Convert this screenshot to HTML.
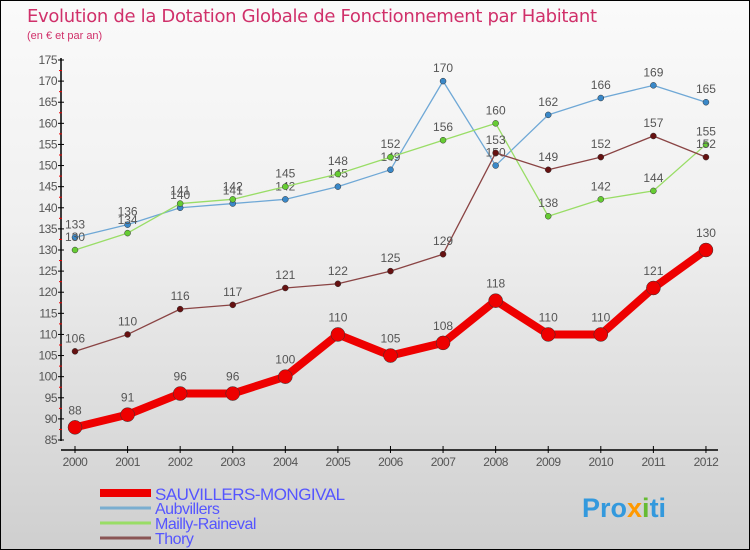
<!DOCTYPE html>
<html><head><meta charset="utf-8"><style>
body{margin:0}
#c{width:750px;height:550px;position:relative;box-sizing:border-box;border:1px solid #000;background:linear-gradient(#fafafa,#f0f0f0 40%,#cfcfcf);font-family:"Liberation Sans",sans-serif;overflow:hidden}
</style></head><body>
<div id="c">
<svg width="750" height="550" id="s" style="position:absolute;left:-1px;top:-1px">
<text x="27" y="22" font-size="18" fill="#d0306a" textLength="570" style="font-family:'DejaVu Sans',sans-serif">Evolution de la Dotation Globale de Fonctionnement par Habitant</text>
<text x="27" y="39" font-size="11" fill="#d0306a">(en € et par an)</text>
<g id="g"></g>
<text x="582" y="517" font-size="27" font-weight="bold" fill="#3399dd">Pro<tspan fill="#ff9900">x</tspan><tspan fill="#66bb33">i</tspan>ti</text>
</svg>
</div>
<script>
const years=[2000,2001,2002,2003,2004,2005,2006,2007,2008,2009,2010,2011,2012];
const sauvillers=[88,91,96,96,100,110,105,108,118,110,110,121,130];
const aubvillers=[133,136,140,141,142,145,149,170,150,162,166,169,165];
const mailly=[130,134,141,142,145,148,152,156,160,138,142,144,155];
const thory=[106,110,116,117,121,122,125,129,153,149,152,157,152];
const yTicks=[85,90,95,100,105,110,115,120,125,130,135,140,145,150,155,160,165,170,175];
const NS='http://www.w3.org/2000/svg';
const g=document.getElementById('g');
const X=i=>75+i*52.58;
const Y=v=>440-(v-85)*380/90;
function el(t,a,p){const e=document.createElementNS(NS,t);for(const k in a)e.setAttribute(k,a[k]);(p||g).appendChild(e);return e;}
let ax=el('line',{x1:61,y1:58,x2:61,y2:441,stroke:'#000','stroke-width':1.5});


let xa=el('line',{x1:61,y1:450,x2:718,y2:450,stroke:'#000','stroke-width':1.5});


yTicks.forEach(v=>{
 el('line',{x1:58,y1:Y(v),x2:64,y2:Y(v),stroke:'#000'});
 if(v<175)el('line',{x1:59,y1:Y(v+2.5),x2:62,y2:Y(v+2.5),stroke:'#e00'});
 const t=el('text',{x:57,y:Y(v)+4,'font-size':12,'text-anchor':'end',fill:'#555','letter-spacing':'-0.5'});
 t.textContent=v;
 
 
});
years.forEach((y,i)=>{
 el('line',{x1:X(i),y1:446,x2:X(i),y2:453,stroke:'#000'});
 const t=el('text',{x:X(i),y:466,'font-size':12,'text-anchor':'middle',fill:'#555','letter-spacing':'-0.5'});
 t.textContent=y;
 
 
});
function series(vals,color,dot,w,r,name){
 const p=el('polyline',{points:vals.map((v,i)=>X(i)+','+Y(v)).join(' '),fill:'none',stroke:color,'stroke-width':w,'stroke-linejoin':'round'});
 
 
 vals.forEach((v,i)=>{
  const c=el('circle',{cx:X(i),cy:Y(v),r:r,fill:dot,stroke:'#333','stroke-width':0.5});
  
  
  const t=el('text',{x:X(i),y:Y(v)-(r+6),'font-size':12,'text-anchor':'middle',fill:'#555'});
  t.textContent=v;
  
  
 });
}
series(aubvillers,'#6fa8d6','#3a88c8',1.3,3,'aubvillers');
series(mailly,'#99dd66','#66cc33',1.3,3,'mailly-raineval');
series(thory,'#8a4444','#661111',1.3,3,'thory');
series(sauvillers,'#ee0000','#ee0000',8,7,'sauvillers');
const legNames=['SAUVILLERS-MONGIVAL','Aubvillers','Mailly-Raineval','Thory'];
const legCols=['#ee0000','#7aaed0','#99dd66','#8a5555'];
legNames.forEach((n,i)=>{
 const y=493+i*15;
 const l=el('line',{x1:100,y1:y,x2:151,y2:y,stroke:legCols[i],'stroke-width':i?3:8});
 
 
 const t=el('text',{x:155,y:y+(i?6:7),'font-size':i?16:17,fill:'#5555ff','letter-spacing':'-0.5'});
 t.textContent=n;
 
 
});
</script>
</body></html>
